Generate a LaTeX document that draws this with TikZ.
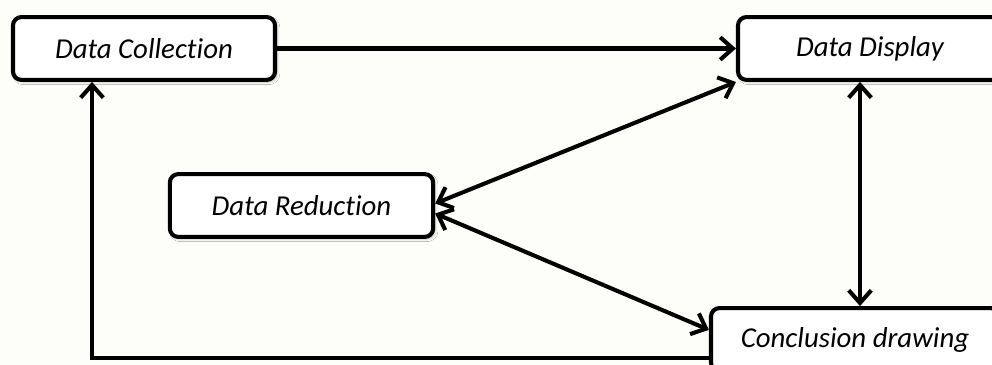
\documentclass[tikz,border=0pt]{standalone}
\usepackage{fontspec}
\setmainfont{Carlito}[Ligatures=NoCommon]
\usepackage{tikz}
\usetikzlibrary{positioning, arrows.meta, calc, shadows.blur}
\definecolor{papercream}{RGB}{253, 253, 249}

\begin{document}
\begin{tikzpicture}[x=0.025cm, y=-0.025cm,
    stage/.style={draw, line width=2.9pt, rounded corners=6pt, fill=white,
                  minimum height=1.57cm, inner sep=0pt,
                  font=\fontsize{20.5}{24}\selectfont\itshape,
                  blur shadow={shadow xshift=1.5pt, shadow yshift=-1.5pt,
                               shadow opacity=25}},
    flow/.style={line width=2.9pt, -{Straight Barb[length=9pt, width=16pt]}},
    twoway/.style={line width=2.9pt,
                   {Straight Barb[length=9pt, width=16pt]}-{Straight Barb[length=9pt, width=16pt]}}]
  \useasboundingbox (0,0) rectangle (992,365);
  \fill[papercream] (0,0) rectangle (992,365);
  \clip (0,0) rectangle (992,365);
  % stages
  \node[stage, minimum width=6.55cm] (coll)  at (144,48.5)  {Data Collection};
  \node[stage, minimum width=6.6cm]  (disp)  at (870,48.5)  {Data Display};
  \node[stage, minimum width=6.58cm] (red)   at (301.5,205.5) {Data Reduction};
  \node[stage, minimum width=7.2cm]  (concl) at (855,339.5) {Conclusion drawing};
  % links
  \draw[flow] (coll.east) -- (disp.west);
  \draw[twoway] (disp.south west) -- ([yshift=0.05cm]red.east);
  \draw[twoway] ([yshift=-0.2cm]red.east) -- ([yshift=0.24cm]concl.west);
  \coordinate (vtop) at ([xshift=-0.25cm]disp.south);
  \draw[twoway] (vtop) -- (vtop |- concl.north);
  % loop back
  \coordinate (back) at ([yshift=-0.46cm]concl.west);
  \draw[flow] (back) -| ([xshift=-1.3cm]coll.south);
\end{tikzpicture}
\end{document}
